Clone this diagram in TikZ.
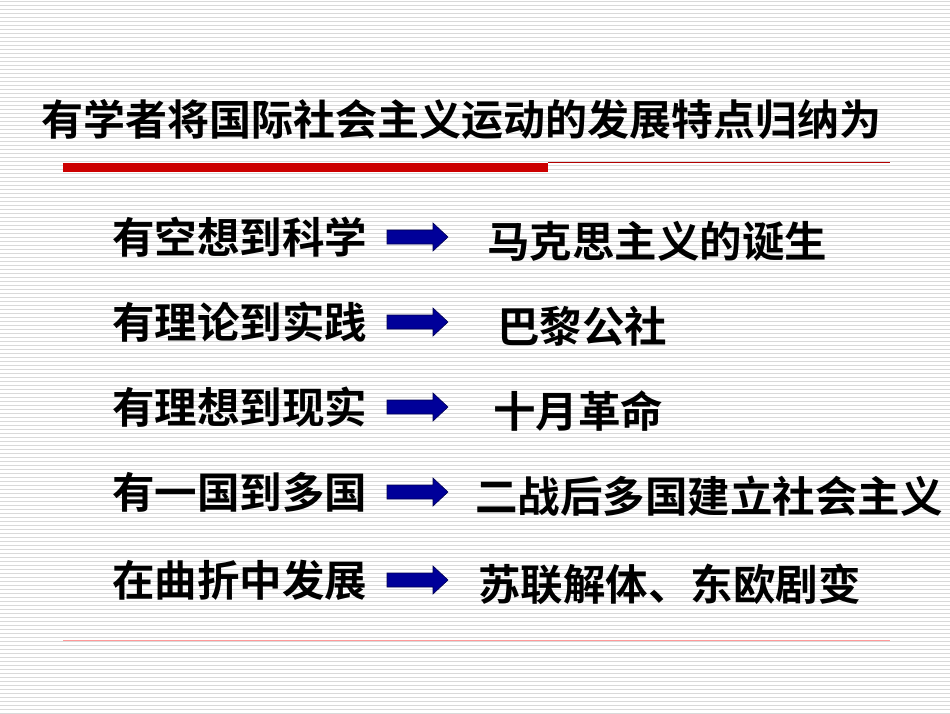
\documentclass[tikz,border=0pt]{standalone}
\usepackage{fontspec}
\newfontfamily\cjk{Noto Sans CJK SC}[BoldFont={* Bold}]
\begin{document}
\begin{tikzpicture}[x=1pt,y=-1pt,
  txt/.style={font=\cjk\bfseries\fontsize{42.5}{44}\selectfont, anchor=west, inner sep=0pt},
  arr/.style={fill={rgb,255:red,0;green,0;blue,153}, draw={rgb,255:red,0;green,0;blue,80}, line width=0.6pt}]
\useasboundingbox (0,0) rectangle (950,713);
\fill[white] (0,0) rectangle (950,713);
\foreach \i in {0,...,178} \draw[black!15, line width=0.8pt] (0,\i*4+1) -- (950,\i*4+1);
\node[font=\cjk\bfseries\fontsize{42}{44}\selectfont, inner sep=0pt] (title) at (461,120) {有学者将国际社会主义运动的发展特点归纳为};
\fill[red!80!black] (63,163) rectangle (548,172);
\draw[red!70!black, line width=0.6pt] (548,162) -- (890,162);
\draw[red!40, line width=0.6pt] (63,640) -- (890,640);
\foreach \y/\l/\rx/\r [count=\k] in {237/有空想到科学/487/马克思主义的诞生, 322/有理论到实践/497/巴黎公社, 407/有理想到现实/493/十月革命, 492/有一国到多国/475/二战后多国建立社会主义, 580/在曲折中发展/478/苏联解体、东欧剧变}{
  \node[txt] (l\k) at (112,\y) {\l};
  \node[txt] (r\k) at (\rx,\y+4) {\r};
  \draw[arr] (387,\y-7) -- (433,\y-7) -- (433,\y-14) -- (448,\y) -- (433,\y+14) -- (433,\y+7) -- (387,\y+7) -- cycle;
}
\end{tikzpicture}
\end{document}
